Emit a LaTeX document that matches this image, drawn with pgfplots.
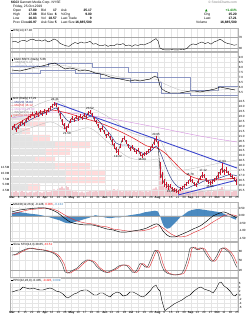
\documentclass[border=0pt]{standalone}
\usepackage{pgfplots}
\usepackage{pgfplotstable}
\pgfplotsset{compat=1.18}
\usepackage{fontspec}
\setmainfont{Liberation Sans}
\newfontfamily\sym{DejaVu Sans}
\definecolor{trend}{RGB}{60,70,205}
\definecolor{mafast}{RGB}{35,50,130}
\definecolor{maslow}{RGB}{225,40,45}
\definecolor{malong}{RGB}{215,150,225}
\definecolor{candle}{RGB}{205,20,45}
\definecolor{histblue}{RGB}{55,125,185}
\definecolor{volpink}{RGB}{235,170,180}
\definecolor{chan}{RGB}{140,150,195}
\newcommand{\tf}{\fontsize{3}{3.4}\selectfont}
\newcommand{\hf}{\fontsize{3.3}{3.8}\selectfont}

\tikzset{ttl/.style={anchor=north west, font=\tf, inner sep=0.8pt, fill=white, fill opacity=0.8, text opacity=1}}
\pgfplotsset{
  panel/.style={
    scale only axis, width=228pt, xmin=10, xmax=238, anchor=north west,
    axis line style={gray!60, line width=0.3pt},
    xtick={12,18.62,25.24,31.86,38.48,45.10,51.72,58.34,64.96,71.58,78.20,84.82,91.44,98.06,104.68,111.30,117.92,124.54,131.16,137.78,144.40,151.02,157.64,164.26,170.88,177.50,184.12,190.74,197.36,203.98,210.60,217.22,223.84,230.46,237.08},
    xticklabels={},
    grid=major, major grid style={gray!20, line width=0.2pt},
    tick style={draw=none},
    ticklabel style={font=\tf, inner sep=0.6pt},
    yticklabel pos=right,
    /pgf/number format/assume math mode=true,
    y tick label style={/pgf/number format/fixed, /pgf/number format/precision=2},
  },
  dates/.style={xticklabels={\textbf{Mar},8,15,22,29,\textbf{Apr},12,19,26,\textbf{May},10,17,24,31,\textbf{Jun},14,21,28,\textbf{Jul},12,19,26,\textbf{Aug},9,16,23,30,\textbf{Sep},13,20,27,\textbf{Oct},11,18,25},
    x tick label style={yshift=0.6pt}},
}

% ---------- data ----------
\pgfplotstableread{
x y
12 52
15 55
18 50
21 56
24 58
27 54
30 60
33 62
36 57
39 59
42 55
45 60
48 52
51 56
54 63
57 58
60 47
63 42
66 38
69 36
72 44
75 50
78 46
81 52
84 48
87 50
90 54
93 44
96 46
99 40
102 38
105 42
108 36
111 40
114 38
117 45
120 42
123 46
126 38
129 41
132 36
135 42
138 39
141 44
144 41
147 46
150 50
153 58
156 64
158 56
160 30
163 24
166 23
169 23
172 24
175 23
178 23
181 24
184 25
187 28
190 40
193 45
196 42
199 48
202 52
205 46
208 50
211 44
214 52
217 56
220 62
222 58
225 50
228 46
231 44
234 40
237 42
}\rsi

\pgfplotstableread{
x y
12 7.7
20 7.6
28 7.8
35 8.0
42 8.1
50 8.3
55 8.4
60 8.1
65 7.8
70 7.9
75 7.8
80 7.6
85 7.7
90 7.6
95 7.4
100 7.3
105 7.2
110 7.0
115 6.9
120 6.8
125 6.7
130 6.6
135 6.7
140 6.6
145 6.7
150 6.8
155 7.1
158 6.9
160 6.1
162 5.8
165 5.6
170 5.4
175 5.4
180 5.4
185 5.5
190 5.6
195 5.6
200 5.5
205 5.6
210 5.7
215 5.8
220 6.0
225 5.9
230 5.8
235 5.7
}\ratio

\pgfplotstableread{
x y
10 8.1
48 8.4
92 8.0
128 7.5
157 7.0
190 5.7
218 6.1
238 6.1
}\pcup
\pgfplotstableread{
x y
10 7.4
40 7.7
75 7.4
100 6.9
130 6.5
161 5.4
190 5.2
238 5.2
}\pclow
\pgfplotstableread{
x y
12 7.6
40 7.9
60 8.2
80 7.8
100 7.4
120 7.0
140 6.7
155 6.8
165 6.3
180 5.7
200 5.5
220 5.7
237 5.8
}\ratioma

\pgfplotstableread{
x y e
12 21.83 0.17
14 22.04 0.17
16 21.63 0.2
18 21.94 0.17
20 22.25 0.17
22 22.45 0.17
24 22.25 0.17
26 22.65 0.2
28 22.86 0.17
30 23.06 0.17
32 23.26 0.17
34 23.06 0.17
36 23.37 0.17
38 23.17 0.17
40 23.47 0.17
42 23.26 0.17
44 23.57 0.17
46 23.37 0.17
48 23.67 0.17
50 23.88 0.2
52 24.08 0.2
54 24.29 0.23
56 24.18 0.23
58 23.67 0.29
60 23.06 0.34
62 22.45 0.34
64 22.04 0.29
66 21.74 0.29
68 22.04 0.23
70 22.55 0.23
72 22.86 0.2
74 22.65 0.17
76 22.96 0.17
78 22.75 0.17
80 23.06 0.17
82 22.86 0.17
84 23.17 0.17
86 22.96 0.17
88 23.37 0.2
90 23.47 0.2
92 23.17 0.2
94 22.75 0.2
96 22.45 0.2
98 22.04 0.23
100 21.63 0.23
102 21.83 0.2
104 21.43 0.2
106 21.02 0.23
108 21.22 0.2
110 20.82 0.23
112 20.41 0.26
114 20.00 0.26
116 19.59 0.26
118 19.39 0.26
120 20.00 0.23
122 20.61 0.23
124 20.82 0.2
126 20.41 0.2
128 20.00 0.2
130 19.69 0.2
132 19.90 0.17
134 19.59 0.17
136 19.39 0.17
138 19.59 0.17
140 19.18 0.17
142 18.98 0.2
144 19.18 0.17
146 19.29 0.17
148 19.49 0.17
150 19.69 0.2
152 20.00 0.23
154 20.41 0.26
156 20.71 0.29
158 20.21 0.34
160 17.55 0.86
162 16.74 0.57
164 16.22 0.4
166 16.02 0.29
168 15.82 0.26
170 15.92 0.23
172 15.61 0.23
174 15.51 0.2
176 15.41 0.2
178 15.31 0.23
180 15.61 0.23
182 15.71 0.2
184 15.92 0.2
186 16.12 0.2
188 16.33 0.23
190 16.63 0.26
192 16.43 0.23
194 16.12 0.2
196 16.02 0.2
198 16.43 0.23
200 16.74 0.23
202 17.04 0.26
204 16.94 0.23
206 16.53 0.23
208 16.33 0.2
210 16.22 0.2
212 16.33 0.2
214 16.53 0.2
216 16.74 0.23
218 17.04 0.26
220 17.35 0.34
222 17.75 0.51
224 17.35 0.34
226 17.55 0.26
228 17.25 0.23
230 17.04 0.23
232 16.83 0.23
234 16.63 0.23
236 16.33 0.26
}\candles

\pgfplotstableread{
x y
12 21.83
20 22.04
30 22.65
40 23.17
50 23.57
56 23.88
62 23.26
68 22.55
74 22.55
80 22.75
86 22.86
92 23.06
98 22.65
104 21.94
110 21.22
116 20.31
122 20.10
128 20.10
134 19.79
140 19.39
146 19.18
152 19.59
156 20.00
160 19.39
164 18.37
168 17.35
172 16.53
176 16.02
180 15.71
184 15.61
188 15.71
192 15.92
196 16.02
200 16.22
204 16.43
210 16.53
216 16.63
222 16.83
228 17.04
234 17.04
237 16.94
}\mafast

\pgfplotstableread{
x y
12 21.94
33 23.17
50 23.67
67 23.37
83 22.86
100 22.35
117 21.63
133 20.82
147 20.00
157 19.79
165 19.29
175 18.26
185 17.25
195 16.74
205 16.53
215 16.53
225 16.63
237 16.74
}\maslow

\pgfplotstableread{
x y
12 22.86
55 23.47
100 22.96
150 22.04
200 21.02
237 20.41
}\malong

\pgfplotstableread{
x y
12 22.86
30 23.88
50 24.69
60 24.49
70 23.88
90 23.88
110 22.86
130 21.43
150 20.82
158 21.02
165 19.59
172 18.26
180 17.55
195 17.75
210 18.06
225 18.37
237 18.57
}\bbup
\pgfplotstableread{
x y
12 21.12
30 21.83
50 22.45
60 22.04
70 21.43
90 21.83
110 20.21
130 18.78
150 18.57
158 18.57
165 16.74
172 15.00
180 14.90
190 15.10
200 15.31
215 15.51
237 15.51
}\bblow

\pgfplotstableread{
y g p
22.96 18 12
22.25 20 15
21.53 12 8
20.82 22 18
20.10 45 35
19.39 35 25
18.67 25 20
17.96 45 35
17.25 55 40
16.53 55 40
15.82 18 12
}\vbp

\pgfplotstableread{
x v
12 2.0
14 1.8
16 2.2
18 1.6
20 1.9
22 2.4
24 1.7
26 2.0
28 1.5
30 1.8
32 2.1
34 1.6
36 1.9
38 2.3
40 1.7
42 1.5
44 1.9
46 2.2
48 1.8
50 2.0
52 2.6
54 3.0
56 2.4
58 3.2
60 3.6
62 4.2
64 3.4
66 4.8
68 3.9
70 2.8
72 2.2
74 1.9
76 2.1
78 1.7
80 1.6
82 1.9
84 1.5
86 1.8
88 2.0
90 2.3
92 1.9
94 2.1
96 2.4
98 2.0
100 2.6
102 2.2
104 2.5
106 2.8
108 2.1
110 2.4
112 2.7
114 3.1
116 2.6
118 2.9
120 2.3
122 2.0
124 2.2
126 2.5
128 2.1
130 2.4
132 2.0
134 2.3
136 1.9
138 2.2
140 2.5
142 2.1
144 1.9
146 2.3
148 2.0
150 2.6
152 2.9
154 3.3
156 3.8
158 3.0
160 11.5
162 6.5
164 4.8
166 4.0
168 3.5
170 3.8
172 3.2
174 2.9
176 3.4
178 3.0
180 2.6
182 2.8
184 2.4
186 2.6
188 2.2
190 2.5
192 2.1
194 2.3
196 2.0
198 2.4
200 2.2
202 2.6
204 2.0
206 1.9
208 2.3
210 2.1
212 1.8
214 2.2
216 2.5
218 2.8
220 3.2
222 4.0
224 3.0
226 2.6
228 2.3
230 2.4
232 2.0
234 2.2
236 2.5
}\volume

\pgfplotstableread{
x y
12 0.27
20 0.40
28 0.47
37 0.53
45 0.53
52 0.40
58 0.20
63 -0.07
70 -0.40
77 -0.53
85 -0.60
92 -0.60
100 -0.73
107 -0.87
113 -0.93
120 -1.07
127 -1.07
133 -1.00
140 -0.93
147 -0.80
153 -0.60
157 -0.53
160 -0.67
163 -1.00
167 -1.27
171 -1.40
175 -1.40
180 -1.27
187 -1.07
193 -0.87
200 -0.67
207 -0.33
213 0.00
220 0.20
223 0.27
227 0.20
233 0.00
237 -0.13
}\macd

\pgfplotstableread{
x y
12 0.13
20 0.27
28 0.40
37 0.47
45 0.53
52 0.47
58 0.33
63 0.13
70 -0.13
77 -0.33
85 -0.47
92 -0.53
100 -0.67
107 -0.73
113 -0.87
120 -0.93
127 -1.00
133 -1.00
140 -1.00
147 -0.93
153 -0.80
157 -0.67
160 -0.67
163 -0.80
167 -1.00
171 -1.20
175 -1.33
180 -1.40
187 -1.33
193 -1.13
200 -0.93
207 -0.67
213 -0.40
220 -0.13
223 0.00
227 0.07
233 0.07
237 0.00
}\signal

\pgfplotstableread{
x y
12 0.20
16 0.25
20 0.25
25 0.20
30 0.15
37 0.10
45 0.00
50 -0.10
55 -0.20
60 -0.30
65 -0.45
70 -0.50
75 -0.40
80 -0.30
85 -0.20
90 -0.10
95 0.05
100 0.00
105 -0.10
110 -0.15
115 -0.10
120 -0.10
125 0.00
130 0.05
135 0.10
140 0.15
145 0.25
150 0.30
155 0.35
158 0.30
160 0.00
162 -0.40
164 -0.70
167 -0.85
170 -0.80
173 -0.60
176 -0.40
180 -0.10
184 0.10
188 0.30
192 0.40
196 0.45
200 0.45
205 0.40
210 0.35
215 0.30
220 0.25
224 0.15
228 0.00
232 -0.15
236 -0.25
}\hist

\pgfplotstableread{
x y
12 67
16 70
20 78
25 85
30 89
35 86
40 84
43 83
47 80
50 77
54 72
58 61
62 40
65 14
68 10
72 18
77 26
82 42
87 52
90 50
93 45
97 30
100 22
104 14
107 12
111 18
115 24
119 33
123 36
127 33
130 22
133 12
136 16
140 40
143 36
147 28
151 55
155 82
158 72
161 40
164 18
167 10
171 6
174 4
178 6
182 10
185 30
188 60
190 88
193 92
197 84
200 90
203 86
206 70
210 52
213 48
217 66
220 86
223 90
226 84
229 76
232 62
235 40
237 28
}\stok

\pgfplotstableread{
x y
14 67
18 70
22 78
27 85
32 89
37 86
42 84
45 83
49 80
52 77
56 72
60 61
64 40
67 14
70 10
74 18
79 26
84 42
89 52
92 50
95 45
99 30
102 22
106 14
109 12
113 18
117 24
121 33
125 36
129 33
132 22
135 12
138 16
142 40
145 36
149 28
153 55
157 82
160 72
163 40
166 18
169 10
173 6
176 4
180 6
184 10
187 30
190 60
192 88
195 92
199 84
202 90
205 86
208 70
212 52
215 48
219 66
222 86
225 90
228 84
231 76
234 62
237 40
}\stod

\pgfplotstableread{
x y
12 1.5
15 2
18 2.5
20 2.5
23 4
26 3.5
30 3
33 3.5
36 3
40 2.5
43 2.5
46 3
50 3.5
53 3
56 2
60 1.5
63 0.5
66 -1
68 -1.5
71 -0.5
74 0.5
77 1
80 2
84 2.5
87 2.5
90 1.5
94 0
97 0
100 1
103 1
106 0
110 -1
113 0.5
117 1.5
120 1
123 -0.5
127 0
130 1.5
133 1.5
137 0.5
140 -0.5
143 -1
146 0
150 2
153 4
156 5
158 3
160 2
162 -3
164 -6.5
165 -7.8
167 -7
170 -6
174 -4.5
178 -3.5
182 -2.5
186 -1
190 0
194 2
198 3.5
201 4
204 3
207 2.5
210 2
213 1
216 3
219 6
221 6.5
224 4.5
227 3.5
230 2
233 0
235 -0.5
237 0.5
}\lowind

\begin{document}
\begin{tikzpicture}[x=1pt,y=1pt]
\path[use as bounding box] (0pt,0pt) rectangle (248pt,-320pt);

% ---------- header ----------
\node[anchor=west, font=\hf, inner sep=0] at (11pt,-2.6pt) {\textbf{\$GCI} Gannett Media Corp. NYSE};
\node[anchor=east, font=\hf, text=gray, inner sep=0] at (237pt,-2.6pt) {\copyright\ StockCharts.com};
\node[anchor=west, font=\hf, inner sep=0] at (13pt,-6.8pt) {Friday, 25-Oct-2019};
\foreach \yy/\la/\va/\lb/\vb/\lc/\vc in {
  -10.8/Open/17.80/Bid/17/Ask/25.17,
  -14.8/High/17.88/Bid Size/6/\%Chg/9.00,
  -18.8/Low/16.83/Vol/18.57/Last Trade/9,
  -22.8/Prev Close/16.97/Ask Size/5/Last Size/16{,}885{,}500}{
  \node[anchor=west, font=\hf, inner sep=0] at (13pt,\yy pt) {\la};
  \node[anchor=east, font=\hf, inner sep=0] at (37pt,\yy pt) {\textbf{\va}};
  \node[anchor=west, font=\hf, inner sep=0] at (41pt,\yy pt) {\lb};
  \node[anchor=east, font=\hf, inner sep=0] at (57pt,\yy pt) {\textbf{\vb}};
  \node[anchor=west, font=\hf, inner sep=0] at (61pt,\yy pt) {\lc};
  \node[anchor=east, font=\hf, inner sep=0] at (92pt,\yy pt) {\textbf{\vc}};
}
\node[anchor=west, font=\hf, inner sep=0, text=green!50!black] at (205pt,-10.8pt) {{\sym\fontsize{3.3}{3.8}\selectfont ▲}};
\node[anchor=east, font=\hf, inner sep=0, text=green!50!black] at (237pt,-10.8pt) {\textbf{+1.41\%}};
\node[anchor=west, font=\hf, inner sep=0] at (204pt,-14.8pt) {Chg};
\node[anchor=east, font=\hf, inner sep=0] at (237pt,-14.8pt) {\textbf{15.20}};
\node[anchor=west, font=\hf, inner sep=0] at (204pt,-18.8pt) {Last};
\node[anchor=east, font=\hf, inner sep=0] at (237pt,-18.8pt) {\textbf{17.21}};
\node[anchor=west, font=\hf, inner sep=0] at (196pt,-22.8pt) {Volume};
\node[anchor=east, font=\hf, inner sep=0] at (237pt,-22.8pt) {\textbf{16,885,500}};

% ---------- panel A: RSI ----------
\begin{axis}[panel, at={(10pt,-28pt)}, height=23pt, ymin=19, ymax=103, ytick={30,70}]
\addplot[gray!70, line width=0.25pt] coordinates {(10,70) (238,70)};
\addplot[gray!70, line width=0.25pt] coordinates {(10,30) (238,30)};
\addplot[black, line width=0.35pt] table {\rsi};
\node[ttl] at (rel axis cs:0,1) {\rule{1.6pt}{1.6pt} RSI(14) 37.18};
\end{axis}

% ---------- panel B: ratio ----------
\begin{axis}[panel, at={(10pt,-52pt)}, height=45pt, ymin=5.0, ymax=9.5, ytick={5.5,6.0,...,9.0}, y tick label style={/pgf/number format/precision=1, /pgf/number format/fixed zerofill}]
\addplot[const plot, chan, line width=0.3pt] table {\pcup};
\addplot[const plot, chan, line width=0.3pt] table {\pclow};
\addplot[gray!55, line width=0.3pt, smooth] table {\ratioma};
\addplot[black, line width=0.4pt] table {\ratio};
\node[anchor=north west, font=\tf, inner sep=0.6pt, align=left] at (axis cs:11,8.95) {\rule{1.6pt}{1.6pt} \$GCI:\$SPX (Daily) 5.66\\ {\color{gray}--- MA(50) 5.74}\\ {\color{chan}--- PC(20) 6.10, 5.20}};
\end{axis}

% ---------- panel C: volume by price ----------
\begin{axis}[scale only axis, width=228pt, height=99pt, at={(10pt,-97pt)}, anchor=north west,
  xmin=0, xmax=228, ymin=14.9, ymax=25, hide axis, xbar stacked, bar width=6pt]
\addplot[fill=gray!22, draw=none] table[x=g, y=y] {\vbp};
\addplot[fill=red!14, draw=none] table[x=p, y=y] {\vbp};
\end{axis}
% volume
\begin{axis}[scale only axis, width=228pt, height=99pt, at={(10pt,-97pt)}, anchor=north west,
  xmin=10, xmax=238, ymin=0, ymax=44, ybar, bar width=1.2pt,
  axis line style={draw=none}, xtick=\empty, tick style={draw=none},
  ytick={2.5,5,7.5,10,12.5}, yticklabels={2.5M,5.0M,7.5M,10.0M,12.5M},
  yticklabel pos=left, ticklabel style={font=\tf, inner sep=0.5pt}]
\addplot[fill=volpink, draw=none] table[x=x, y=v] {\volume};
\end{axis}
% price
\begin{axis}[panel, dates, at={(10pt,-97pt)}, height=99pt, ymin=14.9, ymax=25, ytick={15.5,16,...,24.5},
  y tick label style={/pgf/number format/precision=1, /pgf/number format/fixed zerofill}]
\addplot[gray!55, line width=0.3pt, smooth] table {\bbup};
\addplot[gray!55, line width=0.3pt, smooth] table {\bblow};
\addplot[malong, line width=0.45pt, smooth] table {\malong};
\addplot[maslow, line width=0.6pt, smooth] table {\maslow};
\addplot[mafast, line width=0.45pt, smooth] table {\mafast};
\addplot[trend, line width=0.9pt] coordinates {(55,24.39) (237,17.75)};
\addplot[trend, line width=0.9pt] coordinates {(178,15.00) (237,16.53)};
\addplot[black, line width=0.3pt] table[x=x, y=y] {\candles};
\addplot[candle, only marks, mark=-, mark size=0.5pt,
  error bars/.cd, y dir=both, y explicit, error mark=none,
  error bar style={candle, line width=0.55pt}] table[x=x, y=y, y error=e] {\candles};
\node[font=\tf, inner sep=0.4pt, anchor=south] at (axis cs:55,24.55) {24.41};
\node[font=\tf, inner sep=0.4pt, anchor=north] at (axis cs:67,21.45) {21.58};
\node[font=\tf, inner sep=0.4pt, anchor=south] at (axis cs:90,23.7) {23.52};
\node[font=\tf, inner sep=0.4pt, anchor=north] at (axis cs:118,19.1) {19.22};
\node[font=\tf, inner sep=0.4pt, anchor=north] at (axis cs:142,18.75) {18.84};
\node[font=\tf, inner sep=0.4pt, anchor=south] at (axis cs:156,21.0) {20.95};
\node[font=\tf, inner sep=0.4pt, anchor=east] at (axis cs:175,15.35) {15.12};
\node[font=\tf, inner sep=0.4pt, anchor=south] at (axis cs:190,16.9) {16.78};
\node[font=\tf, inner sep=0.4pt, anchor=south] at (axis cs:203,17.3) {17.12};
\node[font=\tf, inner sep=0.4pt, anchor=south] at (axis cs:222,18.3) {17.94};
\node[font=\tf, inner sep=0.4pt, anchor=north] at (axis cs:210,16.0) {16.05};
\node[anchor=north west, font=\tf, inner sep=0.6pt, align=left] at (rel axis cs:0,1) {\rule{1.6pt}{1.6pt} GCI (Daily) 17.21\\ {\color{mafast}--- MA(20) 16.84}\\ {\color{maslow}--- MA(50) 16.12}\\ {\color{malong}--- MA(200) 19.60}\\ {\color{gray}--- BB(20,2.0) 17.9, 15.4}\\ {\color{red!60}\rule{1.6pt}{1.6pt} Volume 16,885,500}};
\end{axis}

% ---------- panel D: MACD ----------
\begin{axis}[panel, at={(10pt,-202pt)}, height=39pt, ymin=-1.67, ymax=0.93, ytick={-1.5,-1,-0.5,0,0.5},
  y tick label style={/pgf/number format/fixed zerofill}]
\addplot[fill=histblue, draw=none, fill opacity=0.9] table {\hist} \closedcycle;
\addplot[gray!70, line width=0.25pt] coordinates {(10,0) (238,0)};
\addplot[maslow, line width=0.4pt, smooth] table {\signal};
\addplot[black, line width=0.45pt, smooth] table {\macd};
\node[ttl] at (rel axis cs:0,1) {\rule{1.6pt}{1.6pt} MACD(12,26,9) {\color{black}-0.128}, {\color{red}0.006}, {\color{histblue}-0.134}};
\end{axis}

% ---------- panel E: Slow STO ----------
\begin{axis}[panel, at={(10pt,-242pt)}, height=35pt, ymin=-2.2, ymax=108.4, ytick={20,50,80},
  y tick label style={/pgf/number format/precision=0}]
\addplot[gray!70, line width=0.25pt] coordinates {(10,80) (238,80)};
\addplot[gray!70, line width=0.25pt] coordinates {(10,20) (238,20)};
\addplot[maslow, line width=0.4pt, smooth] table {\stod};
\addplot[black!80, line width=0.4pt, smooth] table {\stok};
\node[ttl] at (rel axis cs:0,1) {\rule{1.6pt}{1.6pt} Slow STO(14,3) 28.65, {\color{red}43.51}};
\end{axis}

% ---------- panel F ----------
\begin{axis}[panel, dates, at={(10pt,-278pt)}, height=33pt, ymin=-8, ymax=8.5, ytick={-6,-4,...,6},
  y tick label style={/pgf/number format/precision=0}]
\addplot[black, line width=0.4pt] table {\lowind};
\node[ttl] at (rel axis cs:0,1) {\rule{1.6pt}{1.6pt} PPO(12,26,9) -0.435, {\color{red}-0.426}, {\color{histblue}0.009}};
\end{axis}
\end{tikzpicture}
\end{document}
